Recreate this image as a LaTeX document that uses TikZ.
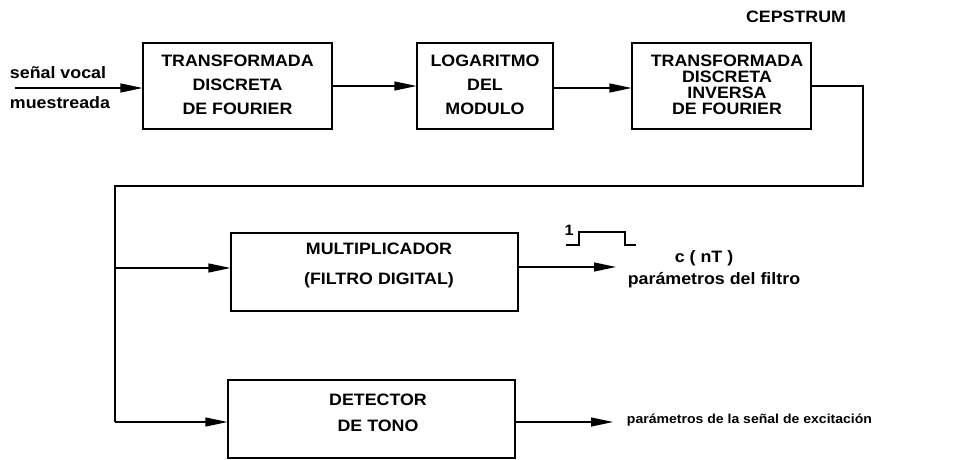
\documentclass[tikz,border=0pt]{standalone}
\usepackage{fontspec}
\setmainfont{Liberation Sans}[FakeStretch=1.08]
\usetikzlibrary{arrows.meta}
\tikzset{
  blk/.style={draw, line width=1.1pt, inner sep=0pt},
  btxt/.style={align=center, inner sep=0pt, font=\bfseries\fontsize{16.5}{24}\selectfont},
  lbl/.style={inner sep=0pt, font=\bfseries\fontsize{16.5}{20}\selectfont},
  wire/.style={line width=1.1pt},
  arr/.style={line width=1.1pt, -{Triangle[length=22pt,width=9pt]}},
}
\begin{document}
\begin{tikzpicture}[x=1pt,y=-1pt]
\useasboundingbox (0,0) rectangle (955,460);
% blocks
\node[blk, minimum width=189pt, minimum height=86pt] (tdf) at (237.5,86) {};
\node[blk, minimum width=136pt, minimum height=86pt] (log) at (485,86) {};
\node[blk, minimum width=179pt, minimum height=86pt] (tdif) at (721.5,86) {};
\node[blk, minimum width=287pt, minimum height=78pt] (mult) at (374.5,272) {};
\node[blk, minimum width=287pt, minimum height=78pt] (det) at (371.5,419) {};
% block texts
\node[btxt] (tdft) at (237.5,85) {TRANSFORMADA\\DISCRETA\\DE FOURIER};
\node[btxt] (logt) at (485,85) {LOGARITMO\\DEL\\MODULO};
\node[btxt, font=\bfseries\fontsize{16.5}{16}\selectfont] (tdift) at (727,85) {TRANSFORMADA\\DISCRETA\\INVERSA\\DE FOURIER};
\node[btxt, font=\bfseries\fontsize{16.5}{30}\selectfont] (multt) at (379,265) {MULTIPLICADOR\\(FILTRO DIGITAL)};
\node[btxt, font=\bfseries\fontsize{16.5}{26}\selectfont] (dett) at (378,413) {DETECTOR\\DE TONO};
% labels
\node[lbl] (sv) at (58,73) {señal vocal};
\node[lbl] (mu) at (60,103) {muestreada};
\node[lbl, font=\bfseries\fontsize{16.5}{18}\selectfont] (cep) at (796,17) {CEPSTRUM};
\node[lbl] (cnt) at (704,258) {c ( nT )};
\node[lbl] (pf) at (714,280) {parámetros del filtro};
\node[lbl, font=\bfseries\fontsize{13}{16}\selectfont] (pe) at (749.5,420) {parámetros de la señal de excitación};
\node[lbl, font=\bfseries\fontsize{15}{16}\selectfont] (one) at (569,230) {1};
% coordinates
\coordinate (in) at (15,88);
\coordinate (c1) at (863,86);
\coordinate (c2) at (863,186);
\coordinate (c3) at (115,186);
\coordinate (c4) at (115,268);
\coordinate (c5) at (115,422);
\coordinate (o1) at (616,267);
\coordinate (o2) at (613,422);
% connectors
\draw[arr] (in) -- (in -| tdf.west);
\draw[arr] (tdf.east) -- (log.west);
\draw[arr] ([yshift=-2pt]log.east) -- ([yshift=-2pt]tdif.west);
\draw[wire] (tdif.east) -- (c1) -- (c2) -- (c3) -- (c5);
\draw[arr] (c4) -- (c4 -| mult.west);
\draw[arr] (c5) -- (c5 -| det.west);
\draw[arr] (o1 -| mult.east) -- (o1);
\draw[arr] (o2 -| det.east) -- (o2);
% pulse
\draw[wire] (566,245) -- (579,245) -- (579,232) -- (625,232) -- (625,245) -- (636,245);
\end{tikzpicture}
\end{document}
